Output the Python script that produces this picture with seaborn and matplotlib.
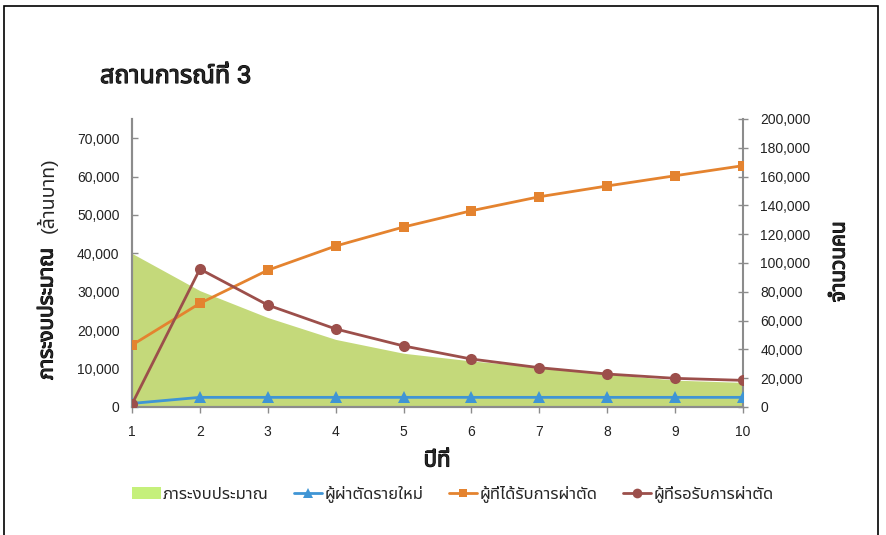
import numpy as np
import pandas as pd
import seaborn as sns
import matplotlib
matplotlib.use("Agg")
import matplotlib.pyplot as plt
import matplotlib.patheffects as pe
from matplotlib import font_manager, ft2font
from matplotlib.lines import Line2D
from matplotlib.patches import Patch, Rectangle
from matplotlib.ticker import FuncFormatter, MultipleLocator

# ---- data ----
years = [1, 2, 3, 4, 5, 6, 7, 8, 9, 10]
budget = [40000, 30300, 23300, 17600, 14000, 12000, 10400, 8600, 7000, 6400]       # left axis (million baht)
new_patients = [2500, 6700, 6700, 6700, 6700, 6700, 6700, 6700, 6700, 6700]         # right axis
treated = [43000, 72000, 95000, 111800, 125000, 136300, 146000, 153500, 160600, 167600]
waiting = [2000, 95800, 70800, 54200, 42400, 33300, 27300, 22900, 19900, 18500]

title = "สถานการณ์ที่ 3"
ylabel_bold = "ภาระงบประมาณ"
ylabel_unit = "(ล้านบาท)"
ylabel_right = "จำนวนคน"
xlabel = "ปีที่"
names = ["ภาระงบประมาณ", "ผู้ผ่าตัดรายใหม่", "ผู้ที่ได้รับการผ่าตัด", "ผู้ที่รอรับการผ่าตัด"]

c_area = "#C4D97A"
c_area_leg = "#C5F07B"
c_blue = "#3F95D5"
c_orange = "#E4832F"
c_red = "#9C4F4B"
c_axis = "#8C8C8C"


# find a family that has Thai glyphs
def thai_family():
    pref = ["Noto Sans Thai", "Noto Sans Thai UI", "Loma", "Garuda", "Tlwg Typo", "Sarabun"]
    found = []
    for f in font_manager.fontManager.ttflist:
        try:
            if 0x0E01 in ft2font.FT2Font(f.fname).get_charmap():
                found.append(f.name)
        except Exception:
            pass
    for p in pref:
        if p in found:
            return p
    return found[0] if found else "DejaVu Sans"


sns.set_style("white")
thai = thai_family()
plt.rcParams["font.family"] = ["Liberation Sans", thai, "DejaVu Sans"]
plt.rcParams["axes.linewidth"] = 1.5

# fake bold for the Thai font (it may only ship a regular weight)
bold = [pe.withStroke(linewidth=0.8, foreground="black")]

df = pd.DataFrame({"year": years, "budget": budget, "new": new_patients,
                   "treated": treated, "waiting": waiting})

fig = plt.figure(figsize=(8.86, 5.35), dpi=100)
ax = fig.add_axes([132 / 886, 1 - 407 / 535, (743 - 132) / 886, (407 - 119) / 535])
ax2 = ax.twinx()

# area on left axis
ax.fill_between(df["year"], 0, df["budget"], color=c_area, linewidth=0, zorder=1)

# lines on right axis
sns.lineplot(data=df, x="year", y="new", ax=ax2, color=c_blue, marker="^",
             markersize=8, markeredgewidth=0, linewidth=2, zorder=3)
sns.lineplot(data=df, x="year", y="treated", ax=ax2, color=c_orange, marker="s",
             markersize=7, markeredgewidth=0, linewidth=2, zorder=3)
sns.lineplot(data=df, x="year", y="waiting", ax=ax2, color=c_red, marker="o",
             markersize=8, markeredgewidth=0, linewidth=2, zorder=4)

ax.set_xlim(1, 10)
ax.set_ylim(0, 75000)
ax2.set_ylim(0, 200000)
ax.set_xticks(years)
ax.yaxis.set_major_locator(MultipleLocator(10000))
ax2.yaxis.set_major_locator(MultipleLocator(20000))
fmt = FuncFormatter(lambda v, p: f"{int(v):,}")
ax.yaxis.set_major_formatter(fmt)
ax2.yaxis.set_major_formatter(fmt)
ax.set_xlabel("")
ax.set_ylabel("")
ax2.set_xlabel("")
ax2.set_ylabel("")

for a in (ax, ax2):
    a.spines["top"].set_visible(False)
    for s in ("left", "right", "bottom"):
        a.spines[s].set_color(c_axis)
        a.spines[s].set_linewidth(1.5)
    a.grid(False)
ax.spines["right"].set_visible(False)

ax.tick_params(axis="y", direction="in", length=4, width=1, color=c_axis,
               labelsize=10, labelcolor="#222222", pad=9, left=True)
ax.tick_params(axis="x", direction="out", length=4, width=1, color=c_axis,
               labelsize=10, labelcolor="#222222", pad=9, bottom=True)
ax2.tick_params(axis="y", direction="inout", length=7, width=1, color=c_axis,
                labelsize=10, labelcolor="#222222", pad=9, right=True)

# titles and labels
fig.text(100 / 886, 1 - 76 / 535, title, fontsize=18, path_effects=bold,
         ha="left", va="center")
fig.text(47 / 886, 1 - 314 / 535, ylabel_bold, fontsize=15, path_effects=bold,
         rotation=90, ha="center", va="center")
fig.text(47 / 886, 1 - 195 / 535, ylabel_unit, fontsize=14,
         rotation=90, ha="center", va="center")
fig.text(839 / 886, 1 - 262 / 535, ylabel_right, fontsize=15, path_effects=bold,
         rotation=90, ha="center", va="center")
fig.text(437 / 886, 1 - 461 / 535, xlabel, fontsize=16, path_effects=bold,
         ha="center", va="center")

# legend
handles = [
    Patch(facecolor=c_area_leg, edgecolor="none"),
    Line2D([], [], color=c_blue, marker="^", markersize=7, markeredgewidth=0, linewidth=2),
    Line2D([], [], color=c_orange, marker="s", markersize=6, markeredgewidth=0, linewidth=2),
    Line2D([], [], color=c_red, marker="o", markersize=7, markeredgewidth=0, linewidth=2),
]
fig.legend(handles, names, loc="center", bbox_to_anchor=(453 / 886, 1 - 494 / 535),
           ncol=4, frameon=False, fontsize=12, handlelength=1.7, handleheight=0.7,
           handletextpad=0.15, columnspacing=1.5)

# outer frame
fig.patches.append(Rectangle((4 / 886, -0.05), 874 / 886, 1.05 - 6 / 535,
                             transform=fig.transFigure, fill=False,
                             edgecolor="black", linewidth=1.2))

fig.savefig("out.png", dpi=100)
